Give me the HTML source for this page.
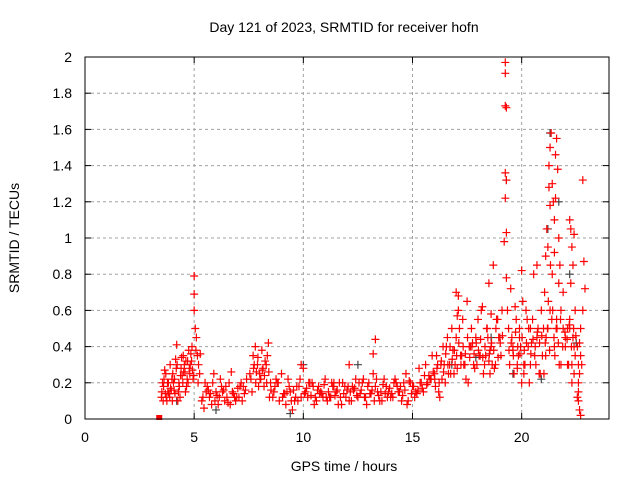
<!DOCTYPE html>
<html><head><meta charset="utf-8"><style>
body{margin:0;background:#fff}
svg text{font-family:"Liberation Sans",sans-serif;font-size:14px;fill:#000}
</style></head><body>
<svg id="chart" width="640" height="480" xmlns="http://www.w3.org/2000/svg">
<rect width="640" height="480" fill="#fff"/>
<g id="grid"></g>
<g id="marks"></g>
<rect x="85" y="57" width="524" height="362" fill="none" stroke="#000" stroke-width="1"/>
<g id="axes"></g>
<text x="344" y="32" text-anchor="middle">Day 121 of 2023, SRMTID for receiver hofn</text>
<text x="344" y="471" text-anchor="middle">GPS time / hours</text>
<text transform="translate(19,238) rotate(-90)" text-anchor="middle">SRMTID / TECUs</text>
</svg>
<script>
const xTicks=[0,5,10,15,20];
const yTicks=[0,0.2,0.4,0.6,0.8,1,1.2,1.4,1.6,1.8,2];
const yTickLabels=["0","0.2","0.4","0.6","0.8","1","1.2","1.4","1.6","1.8","2"];
const redTimes=[3.5,3.6,3.7,3.8,3.9,4.0,4.1,4.2,4.3,4.4,4.5,4.6,4.7,4.8,4.9,5.0,5.0,5.0,5.1,5.2,3.55,3.75,3.95,4.15,4.35,4.55,4.75,4.95,5.15,5.25,3.65,3.85,4.05,4.25,4.45,4.65,4.85,5.05,
5.4,5.6,5.8,6.0,6.2,6.4,6.6,6.8,7.0,7.2,7.4,5.5,5.7,5.9,6.1,6.3,6.5,6.7,6.9,7.1,7.3,5.45,5.85,6.25,6.65,7.05,
7.6,7.7,7.8,7.9,8.0,8.1,8.2,8.3,8.4,8.5,7.65,7.85,8.05,8.25,8.45,7.75,7.95,8.15,8.35,
8.6,8.8,9.0,9.2,9.4,9.6,9.8,10.0,10.2,10.4,10.6,10.8,11.0,11.2,11.4,11.6,11.8,12.0,12.2,12.4,12.6,12.8,13.0,13.2,13.4,13.6,13.8,14.0,14.2,14.4,14.6,14.8,15.0,15.2,15.4,15.6,15.8,
8.7,8.9,9.1,9.3,9.5,9.7,9.9,10.1,10.3,10.5,10.7,10.9,11.1,11.3,11.5,11.7,11.9,12.1,12.3,12.5,12.7,12.9,13.1,13.3,13.5,13.7,13.9,14.1,14.3,14.5,14.7,14.9,15.1,15.3,15.5,15.7,15.9,
8.75,9.25,9.75,10.25,10.75,11.25,11.75,12.25,12.75,13.25,13.75,14.25,14.75,15.25,15.75,12.1,13.2,13.3,11.4,9.9,
16.0,16.1,16.2,16.3,16.4,16.5,16.6,16.7,16.8,16.9,17.0,17.1,17.2,17.3,17.4,17.5,17.6,17.7,17.8,17.9,18.0,18.1,18.2,18.3,18.4,18.5,18.6,18.7,18.8,18.9,19.0,19.1,
16.05,16.25,16.45,16.65,16.85,17.05,17.25,17.45,17.65,17.85,18.05,18.25,18.45,18.65,18.85,19.05,
16.15,16.35,16.55,16.75,16.95,17.15,17.35,17.55,17.75,17.95,18.15,18.35,18.55,18.75,18.95,17.0,17.1,17.05,18.5,18.55,18.6,
19.25,19.25,19.25,19.3,19.25,19.3,19.25,19.3,19.2,19.3,19.35,19.4,19.5,19.6,19.7,19.8,19.9,20.0,20.1,20.2,20.3,20.4,20.5,20.6,20.7,20.8,20.9,
19.45,19.55,19.65,19.75,19.85,19.95,20.05,20.15,20.25,20.35,20.45,20.55,20.65,20.75,20.85,20.95,19.6,19.9,20.1,20.4,20.7,20.0,19.8,
21.0,21.05,21.1,21.15,21.2,21.25,21.3,21.35,21.4,21.45,21.5,21.55,21.6,21.65,21.7,21.75,21.8,21.9,22.0,22.1,
21.1,21.2,21.3,21.4,21.5,21.6,21.7,21.8,21.9,22.0,21.02,21.12,21.22,21.32,21.42,21.52,21.62,21.72,21.5,21.55,21.3,21.25,
22.2,22.25,22.3,22.35,22.4,22.45,22.2,22.3,22.4,22.25,22.35,22.3,22.2,22.4,22.45,22.1,22.15,
22.55,22.6,22.6,22.65,22.6,22.65,22.7,22.7,22.6,22.75,22.65,22.55,22.8,22.85,22.9,22.8,22.7,
3.52,3.62,3.72,3.82,3.92,4.02,4.12,4.22,4.32,4.42,4.52,4.62,4.72,4.82,4.92,5.08,5.18,5.28,
3.58,3.68,3.78,3.88,3.98,4.08,4.18,4.28,4.38,4.48,4.58,4.68,4.78,4.88,4.98,
5.35,5.55,5.75,5.95,6.15,6.35,6.55,6.75,6.95,7.15,7.35,5.65,6.05,6.45,6.85,7.25,
7.55,7.72,7.82,7.92,8.02,8.12,8.22,8.32,8.42,8.52,
8.65,8.85,9.05,9.15,9.35,9.45,9.55,9.65,9.85,10.05,10.15,10.35,10.45,10.55,10.65,10.85,10.95,11.05,11.15,11.35,11.45,11.55,11.65,11.85,11.95,12.05,12.15,12.35,12.45,12.55,12.65,12.85,12.95,13.05,13.15,13.35,13.45,13.55,13.65,13.85,13.95,14.05,14.15,14.35,14.45,14.55,14.65,14.85,14.95,15.05,15.15,15.35,15.45,15.55,15.65,15.85,15.95,
16.02,16.12,16.22,16.32,16.42,16.52,16.62,16.72,16.82,16.92,17.02,17.12,17.22,17.32,17.42,17.52,17.62,17.72,17.82,17.92,18.02,18.12,18.22,18.32,18.42,18.52,18.62,18.72,18.82,18.92,19.02,19.12,
19.42,19.52,19.62,19.72,19.82,19.92,20.02,20.12,20.22,20.32,20.42,20.52,20.62,20.72,20.82,20.92,
21.08,21.18,21.28,21.38,21.48,21.58,21.68,21.78,21.88,21.98,22.08,22.18,22.28,22.38,22.48];
const redValues=[0.12,0.18,0.25,0.15,0.3,0.1,0.22,0.41,0.2,0.28,0.35,0.15,0.32,0.25,0.4,0.79,0.69,0.6,0.45,0.3,0.2,0.1,0.16,0.33,0.12,0.3,0.38,0.22,0.35,0.25,0.27,0.14,0.2,0.1,0.24,0.18,0.36,0.5,
0.12,0.18,0.08,0.15,0.22,0.1,0.2,0.14,0.17,0.1,0.22,0.2,0.12,0.25,0.08,0.15,0.12,0.26,0.1,0.18,0.14,0.06,0.2,0.18,0.08,0.12,
0.22,0.35,0.4,0.3,0.25,0.38,0.18,0.3,0.42,0.2,0.15,0.26,0.22,0.32,0.12,0.3,0.18,0.28,0.35,
0.12,0.2,0.25,0.08,0.15,0.1,0.18,0.28,0.12,0.2,0.1,0.15,0.22,0.12,0.18,0.08,0.2,0.16,0.1,0.22,0.14,0.12,0.2,0.25,0.15,0.1,0.18,0.12,0.22,0.15,0.2,0.1,0.18,0.14,0.2,0.3,0.22,
0.18,0.1,0.14,0.22,0.05,0.18,0.12,0.15,0.2,0.08,0.18,0.12,0.1,0.2,0.15,0.12,0.18,0.1,0.16,0.12,0.2,0.08,0.14,0.18,0.1,0.22,0.15,0.12,0.18,0.1,0.25,0.2,0.12,0.28,0.15,0.2,0.35,
0.22,0.15,0.1,0.2,0.14,0.12,0.08,0.18,0.22,0.1,0.14,0.2,0.08,0.16,0.24,0.3,0.36,0.44,0.2,0.3,
0.25,0.35,0.15,0.3,0.4,0.2,0.45,0.3,0.5,0.25,0.45,0.6,0.35,0.55,0.3,0.65,0.4,0.5,0.3,0.45,0.55,0.35,0.62,0.3,0.5,0.75,0.4,0.85,0.3,0.55,0.45,0.6,
0.18,0.12,0.3,0.25,0.38,0.28,0.35,0.22,0.4,0.28,0.35,0.25,0.45,0.3,0.55,0.35,
0.3,0.22,0.4,0.25,0.3,0.5,0.3,0.2,0.42,0.3,0.6,0.35,0.38,0.28,0.45,0.7,0.68,0.57,0.32,0.25,0.58,
1.97,1.91,1.73,1.72,1.36,1.32,1.22,1.03,0.98,0.78,0.6,0.5,0.72,0.4,0.62,0.3,0.5,0.82,0.25,0.6,0.4,0.3,0.55,0.35,0.45,0.25,0.6,
0.3,0.45,0.25,0.55,0.35,0.4,0.65,0.3,0.55,0.2,0.42,0.8,0.3,0.5,0.25,0.35,0.38,0.45,0.3,0.5,0.85,0.2,0.28,
0.5,0.7,0.9,1.05,0.95,1.28,1.5,1.58,1.3,1.2,1.1,1.46,1.55,1.38,1.0,0.85,0.6,0.7,0.45,0.3,
0.35,0.5,0.6,0.8,0.4,0.55,0.75,0.3,0.5,0.4,0.25,0.45,0.65,0.85,0.6,0.35,0.5,0.3,0.92,1.22,1.18,1.4,
1.1,1.05,0.95,0.85,1.02,0.6,0.5,0.3,0.4,0.75,0.45,0.2,0.55,0.25,0.35,0.5,0.3,
0.4,0.3,0.15,0.05,0.1,0.25,0.02,0.35,0.2,0.3,0.42,0.12,1.32,0.87,0.72,0.6,0.5,
0.15,0.22,0.12,0.2,0.17,0.25,0.14,0.3,0.18,0.34,0.26,0.32,0.2,0.3,0.27,0.38,0.2,0.36,
0.1,0.14,0.2,0.12,0.22,0.16,0.28,0.15,0.24,0.2,0.26,0.22,0.28,0.32,0.24,
0.1,0.15,0.14,0.1,0.12,0.16,0.09,0.15,0.12,0.2,0.16,0.16,0.13,0.18,0.12,0.18,
0.25,0.28,0.2,0.34,0.22,0.27,0.24,0.2,0.26,0.16,
0.15,0.2,0.12,0.14,0.18,0.1,0.16,0.12,0.22,0.14,0.17,0.13,0.18,0.12,0.16,0.14,0.19,0.12,0.15,0.18,0.13,0.16,0.2,0.14,0.12,0.18,0.15,0.17,0.13,0.2,0.16,0.12,0.18,0.14,0.16,0.22,0.13,0.15,0.19,0.12,0.17,0.14,0.2,0.15,0.18,0.13,0.16,0.21,0.14,0.18,0.15,0.2,0.17,0.24,0.19,0.22,0.26,
0.22,0.28,0.2,0.32,0.26,0.36,0.3,0.4,0.33,0.38,0.35,0.42,0.3,0.4,0.36,0.45,0.34,0.4,0.36,0.42,0.38,0.44,0.34,0.4,0.5,0.36,0.42,0.38,0.5,0.34,0.42,0.46,
0.38,0.42,0.35,0.48,0.4,0.36,0.45,0.38,0.42,0.5,0.36,0.44,0.4,0.48,0.42,0.46,
0.42,0.5,0.38,0.55,0.45,0.5,0.42,0.55,0.4,0.48,0.44,0.52,0.4,0.5,0.46];
const grayTimes=[4.2,6.0,9.4,10.0,12.5,16.8,18.6,19.3,19.6,20.9,21.3,21.7,22.2,22.5,17.9,21.2];
const grayValues=[0.1,0.05,0.03,0.3,0.3,0.3,0.45,1.32,0.25,0.22,1.58,1.2,0.8,0.42,0.34,1.05];
const X0=85,X1=609,Y0=419,Y1=57,XMAX=24,YMAX=2;
const sx=t=>X0+(X1-X0)*t/XMAX;
const sy=v=>Y0-(Y0-Y1)*v/YMAX;
const NS="http://www.w3.org/2000/svg";
function mk(tag,attrs,parent){const e=document.createElementNS(NS,tag);for(const k in attrs)e.setAttribute(k,attrs[k]);parent.appendChild(e);return e;}
const grid=document.getElementById('grid'),axes=document.getElementById('axes'),marks=document.getElementById('marks');
xTicks.forEach((t,i)=>{
  const x=sx(t);
  if(t>0){const g=mk('line',{x1:x,x2:x,y1:Y0,y2:Y1,stroke:'#a0a0a0','stroke-dasharray':'3,3'},grid);
  
  }
  mk('line',{x1:x,x2:x,y1:Y0,y2:Y0-6,stroke:'#000'},axes);
  mk('line',{x1:x,x2:x,y1:Y1,y2:Y1+6,stroke:'#000'},axes);
  const l=mk('text',{x:x,y:442,'text-anchor':'middle'},axes);l.textContent=String(t);
  
  
});
yTicks.forEach((v,i)=>{
  const y=sy(v);
  if(v>0&&v<YMAX){const g=mk('line',{x1:X0,x2:X1,y1:y,y2:y,stroke:'#a0a0a0','stroke-dasharray':'3,3'},grid);
  
  }
  mk('line',{x1:X0,x2:X0+6,y1:y,y2:y,stroke:'#000'},axes);
  mk('line',{x1:X1,x2:X1-6,y1:y,y2:y,stroke:'#000'},axes);
  const l=mk('text',{x:72,y:y+5,'text-anchor':'end'},axes);l.textContent=yTickLabels[i];
  
  
});
function plus(t,v,col,name){
  const x=sx(t),y=sy(v);
  const p=mk('path',{d:`M${x-4},${y}h8M${x},${y-4}v8`,stroke:col,'stroke-width':1.2,fill:'none'},marks);
  
  
}
grayTimes.forEach((t,i)=>plus(t,grayValues[i],'#444','gray-point'));
redTimes.forEach((t,i)=>plus(t,redValues[i],'#f00','red-point'));
const sq=mk('rect',{x:sx(3.4)-3,y:sy(0)-4,width:6,height:5,fill:'#f00'},marks);


</script>
</body></html>
